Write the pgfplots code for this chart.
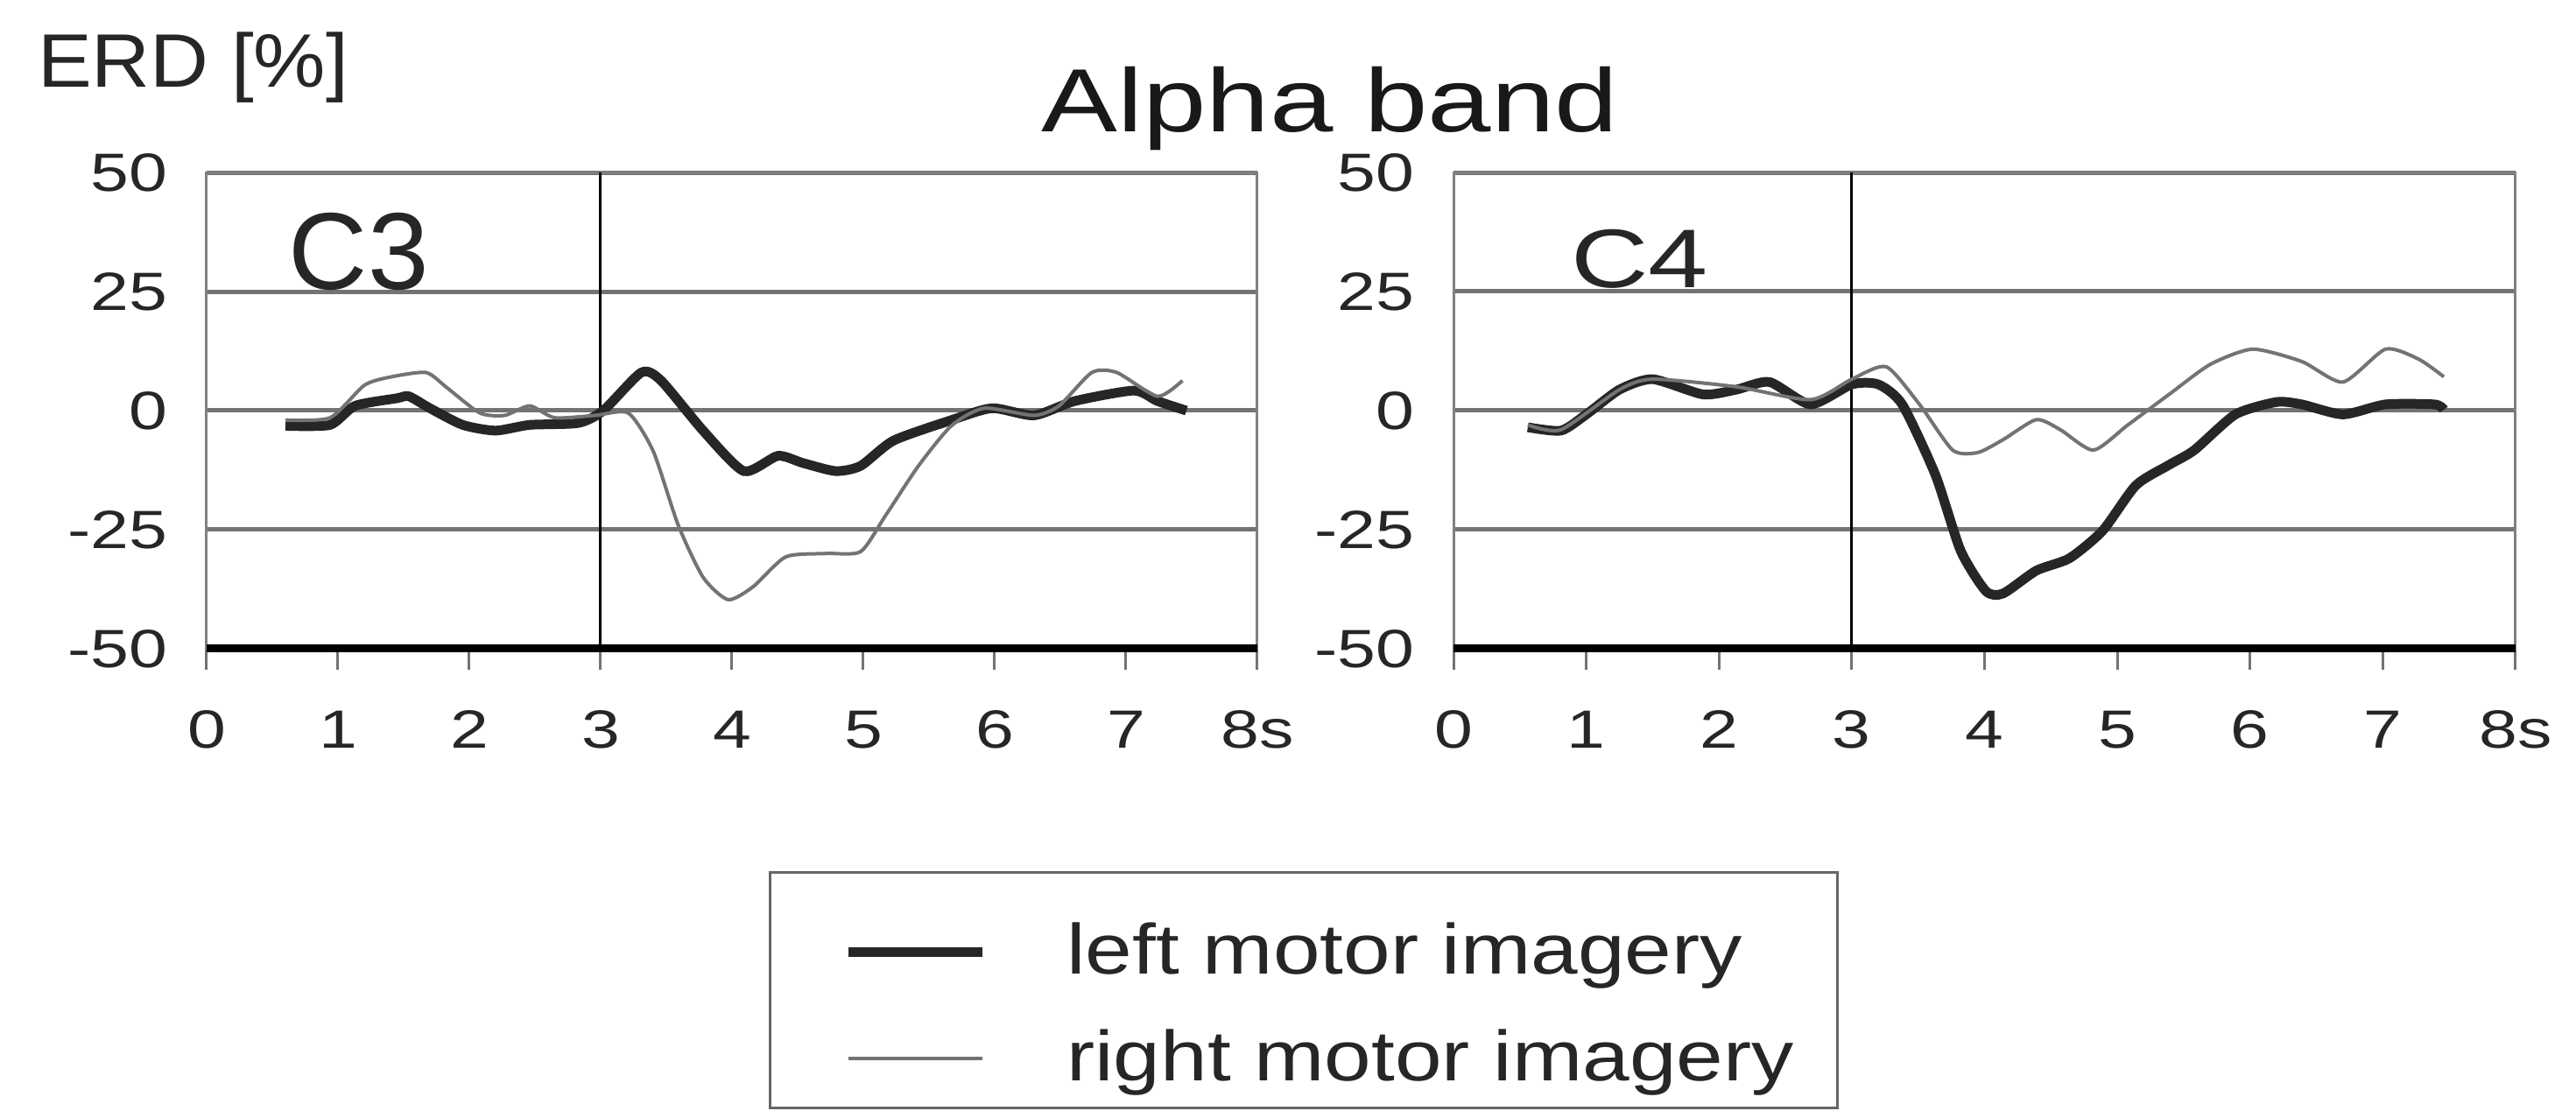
\documentclass[border=0pt]{standalone}
\usepackage{fontspec}
\setmainfont{Liberation Sans}
\newfontfamily\tickfont{Liberation Sans}[FakeStretch=1.28]
\newfontfamily\titlefont{Liberation Sans}[FakeStretch=1.27]
\newfontfamily\erdfont{Liberation Sans}[FakeStretch=1.07]
\newfontfamily\legfont{Liberation Sans}[FakeStretch=1.19]
\newfontfamily\cfourfont{Liberation Sans}[FakeStretch=1.29]
\usepackage{pgfplots}
\pgfplotsset{compat=1.18}

\pgfplotsset{erdaxis/.style={
  scale only axis, anchor=south west, height=108.8pt,
  xmin=0, xmax=8, ymin=-50, ymax=50, clip=false,
  axis line style={black!50, line width=0.6pt},
  xtick={0,1,2,3,4,5,6,7,8}, xticklabels={0,1,2,3,4,5,6,7,8s},
  ytick={-50,-25,0,25,50}, yticklabels={-50,-25,0,25,50},
  xtick pos=bottom, ytick pos=left,
  xtick align=outside, major tick length=4.8pt,
  xtick style={black!55, line width=0.6pt},
  ytick style={draw=none},
  ymajorgrids, grid style={black!55, line width=1pt},
  ticklabel style={font=\fontsize{12.3}{14}\tickfont, inner sep=0pt, text=black!85},
  xticklabel style={yshift=-9.2pt},
  yticklabel style={xshift=-8.8pt},
}}

\begin{document}
\begin{tikzpicture}
\useasboundingbox (0pt,0pt) rectangle (588.4pt,253.8pt);

\node[anchor=base west, inner sep=0pt, text=black!85] at (8.4pt,233.8pt) {\fontsize{17.3}{20}\erdfont ERD [\%]};
\node[anchor=base, inner sep=0pt, text=black!90] at (303.8pt,223.6pt) {\fontsize{20.5}{24}\titlefont Alpha band};

% ---------- C3 ----------
\begin{axis}[erdaxis, at={(47.2pt,105.6pt)}, width=240pt,
  legend style={at={(axis description cs:0.535,-0.467)}, anchor=north west,
    draw=black!60, line width=0.6pt, inner xsep=10pt, inner ysep=4.6pt,
    font=\fontsize{16.2}{19}\legfont, column sep=18.2pt, row sep=11.2pt,
    nodes={inner sep=0pt}, cells={anchor=west}, text=black!85},
  legend image code/.code={\path (-6.8pt,0pt); \draw[#1] (0pt,0pt) -- (30.6pt,0pt);},
]
\addplot[black, line width=1.8pt, forget plot] coordinates {(0,-50) (8,-50)};
\addplot[black, line width=0.6pt, forget plot] coordinates {(3,-50) (3,50)};

\addplot[black!85, line width=2.2pt, smooth, tension=0.4,
  legend image code/.code={\path (-6.8pt,12.4pt); \draw[##1] (0pt,0pt) -- (30.6pt,0pt);}] coordinates {
(0.6,-3.2) (0.94,-3) (1.13,1) (1.45,2.6) (1.54,3) (1.7,0.5) (1.95,-3) (2.2,-4.2)
(2.46,-3) (2.83,-2.6) (3.02,0) (3.31,8) (3.46,6.3) (3.78,-4.2) (4.09,-12.7)
(4.35,-9.5) (4.54,-11) (4.79,-12.7) (4.98,-11.6) (5.23,-6.3) (5.67,-2) (5.98,0.5)
(6.3,-1) (6.61,2) (7.06,4.2) (7.24,2) (7.46,0)};
\addlegendentry{left motor imagery}

\addplot[black!55, line width=0.8pt, smooth, tension=0.4] coordinates {
(0.6,-2) (0.94,-1.5) (1.2,5.3) (1.39,7) (1.67,8) (1.83,4.8) (2.08,-0.5) (2.27,-1)
(2.46,1) (2.65,-1.5) (2.96,-1) (3.21,-0.5) (3.4,-8.5) (3.59,-24) (3.78,-35)
(3.97,-39.7) (4.16,-37) (4.41,-30.7) (4.72,-30) (4.98,-29.6) (5.17,-22) (5.42,-11.6)
(5.67,-3.2) (5.92,0.5) (6.3,-1) (6.49,1) (6.74,8) (6.93,8) (7.24,3) (7.43,6.3)};
\addlegendentry{right motor imagery}

\node[anchor=base west, inner sep=0pt, text=black!85] at (axis cs:0.62,25.4) {\fontsize{25}{28}\selectfont C3};
\end{axis}

% ---------- C4 ----------
\begin{axis}[erdaxis, at={(332pt,105.6pt)}, width=242.6pt]
\addplot[black, line width=1.8pt] coordinates {(0,-50) (8,-50)};
\addplot[black, line width=0.6pt] coordinates {(3,-50) (3,50)};

\addplot[black!85, line width=2.2pt, smooth, tension=0.4] coordinates {
(0.56,-3.5) (0.81,-4.2) (1.0,-0.8) (1.25,4.4) (1.5,6.6) (1.88,3.4) (2.13,4.4)
(2.38,6) (2.69,1.3) (3.0,5.5) (3.2,5.5) (3.38,1.3) (3.63,-13.5) (3.82,-29.4)
(4.01,-37.9) (4.14,-38.4) (4.39,-33.6) (4.64,-31) (4.89,-25.2) (5.14,-15.7)
(5.39,-11.4) (5.58,-8.3) (5.89,-0.8) (6.2,1.8) (6.39,1.3) (6.7,-0.8) (7.02,1.3)
(7.39,1.3) (7.46,0.2)};

\addplot[black!55, line width=0.8pt, smooth, tension=0.4] coordinates {
(0.56,-3) (0.81,-4) (1.25,4.4) (1.5,6.6) (2.13,5) (2.69,2.3) (3.0,6.6) (3.26,9.2)
(3.51,1.3) (3.76,-8.3) (3.95,-8.8) (4.14,-6.1) (4.39,-1.9) (4.57,-4) (4.82,-8.3)
(5.08,-3) (5.39,3.4) (5.7,9.7) (6.02,12.9) (6.39,10.3) (6.7,6) (7.02,12.9)
(7.27,10.8) (7.46,7.1)};

\node[anchor=base west, inner sep=0pt, text=black!85] at (axis cs:0.88,25.9) {\fontsize{19}{22}\cfourfont C4};
\end{axis}
\end{tikzpicture}
\end{document}
